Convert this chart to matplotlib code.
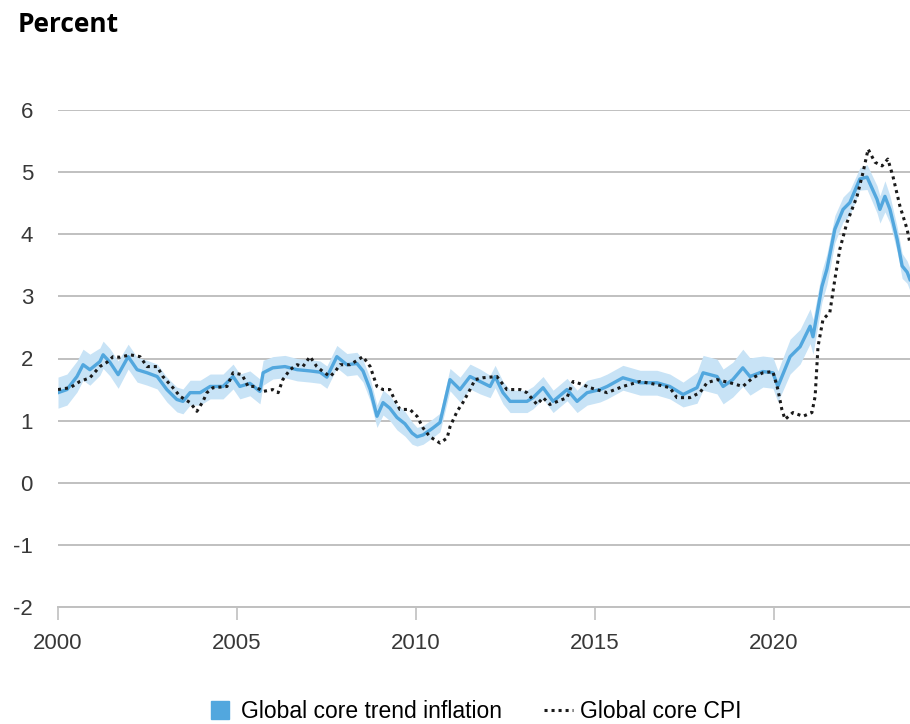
import numpy as np
import matplotlib
matplotlib.use("Agg")
from matplotlib import pyplot as plt
from matplotlib.lines import Line2D

# global core trend inflation
trend_year = [2000.0, 2000.25, 2000.53, 2000.7, 2000.89, 2001.17, 2001.26, 2001.45, 2001.68, 2001.96,
              2002.21, 2002.49, 2002.77, 2003.04, 2003.32, 2003.49, 2003.69, 2003.97, 2004.25, 2004.61,
              2004.89, 2005.08, 2005.36, 2005.64, 2005.73, 2006.0, 2006.34, 2006.68, 2007.04, 2007.32,
              2007.51, 2007.79, 2008.07, 2008.35, 2008.52, 2008.72, 2008.91, 2009.08, 2009.27, 2009.47,
              2009.69, 2009.89, 2010.03, 2010.2, 2010.47, 2010.67, 2010.95, 2011.23, 2011.51, 2011.79,
              2012.07, 2012.21, 2012.43, 2012.63, 2013.1, 2013.27, 2013.55, 2013.83, 2014.22, 2014.5,
              2014.78, 2015.14, 2015.34, 2015.78, 2016.26, 2016.73, 2017.09, 2017.46, 2017.85, 2018.02,
              2018.41, 2018.58, 2018.85, 2019.13, 2019.33, 2019.69, 2019.97, 2020.11, 2020.45, 2020.73,
              2021.01, 2021.09, 2021.34, 2021.48, 2021.7, 2021.93, 2022.12, 2022.4, 2022.6, 2022.88,
              2022.96, 2023.1, 2023.24, 2023.44, 2023.58, 2023.72, 2023.8]
trend = [1.45, 1.5, 1.71, 1.9, 1.82, 1.95, 2.06, 1.94, 1.74, 2.03,
         1.82, 1.77, 1.71, 1.5, 1.34, 1.31, 1.45, 1.45, 1.55, 1.55,
         1.71, 1.55, 1.6, 1.47, 1.77, 1.85, 1.87, 1.82, 1.8, 1.78,
         1.7, 2.03, 1.9, 1.92, 1.8, 1.5, 1.07, 1.29, 1.2, 1.05,
         0.95, 0.8, 0.74, 0.77, 0.88, 0.97, 1.66, 1.5, 1.71, 1.63,
         1.55, 1.71, 1.45, 1.31, 1.31, 1.37, 1.53, 1.31, 1.5, 1.31,
         1.45, 1.5, 1.55, 1.69, 1.61, 1.61, 1.55, 1.42, 1.53, 1.77,
         1.71, 1.55, 1.66, 1.85, 1.71, 1.79, 1.77, 1.55, 2.03, 2.19,
         2.52, 2.35, 3.16, 3.44, 4.08, 4.4, 4.51, 4.89, 4.92, 4.56,
         4.4, 4.61, 4.4, 3.92, 3.49, 3.39, 3.27]
band = [0.25, 0.25, 0.25, 0.25, 0.25, 0.22, 0.22, 0.22, 0.22, 0.2,
        0.2, 0.2, 0.2, 0.2, 0.2, 0.2, 0.2, 0.2, 0.2, 0.2,
        0.2, 0.2, 0.2, 0.2, 0.2, 0.18, 0.18, 0.18, 0.18, 0.18,
        0.18, 0.18, 0.18, 0.18, 0.18, 0.18, 0.18, 0.2, 0.2, 0.2,
        0.2, 0.18, 0.15, 0.15, 0.15, 0.15, 0.18, 0.2, 0.2, 0.2,
        0.18, 0.18, 0.18, 0.18, 0.18, 0.18, 0.18, 0.18, 0.18, 0.18,
        0.2, 0.2, 0.2, 0.2, 0.2, 0.2, 0.2, 0.2, 0.25, 0.28,
        0.28, 0.28, 0.28, 0.3, 0.3, 0.25, 0.25, 0.25, 0.28, 0.28,
        0.28, 0.28, 0.25, 0.25, 0.22, 0.2, 0.2, 0.18, 0.2, 0.22,
        0.22, 0.25, 0.22, 0.2, 0.2, 0.18, 0.18]

# global core CPI
cpi_year = [2000.0, 2000.34, 2000.61, 2000.89, 2001.17, 2001.37, 2001.54, 2001.73, 2002.01, 2002.29,
            2002.49, 2002.77, 2002.93, 2003.21, 2003.41, 2003.69, 2003.88, 2004.05, 2004.16, 2004.33,
            2004.72, 2004.89, 2005.14, 2005.31, 2005.5, 2005.73, 2006.0, 2006.15, 2006.28, 2006.48,
            2006.68, 2006.84, 2007.04, 2007.23, 2007.4, 2007.6, 2007.74, 2007.88, 2008.16, 2008.52,
            2008.72, 2008.91, 2009.08, 2009.27, 2009.36, 2009.55, 2009.83, 2010.03, 2010.2, 2010.39,
            2010.67, 2010.87, 2010.95, 2011.15, 2011.31, 2011.51, 2011.65, 2011.87, 2012.26, 2012.54,
            2012.91, 2013.1, 2013.38, 2013.55, 2013.74, 2014.22, 2014.39, 2014.66, 2014.86, 2015.34,
            2015.78, 2016.26, 2016.73, 2017.09, 2017.29, 2017.65, 2017.93, 2018.13, 2018.41, 2018.77,
            2019.13, 2019.41, 2019.69, 2019.97, 2020.11, 2020.22, 2020.31, 2020.53, 2020.81, 2021.06,
            2021.15, 2021.23, 2021.37, 2021.56, 2021.7, 2021.84, 2022.04, 2022.32, 2022.49, 2022.63,
            2022.82, 2023.02, 2023.18, 2023.32, 2023.52, 2023.72, 2023.8]
cpi = [1.5, 1.53, 1.63, 1.69, 1.87, 1.94, 2.03, 2.02, 2.06, 2.03,
       1.87, 1.87, 1.71, 1.53, 1.39, 1.29, 1.15, 1.31, 1.45, 1.53,
       1.55, 1.77, 1.74, 1.55, 1.55, 1.47, 1.5, 1.45, 1.66, 1.82,
       1.9, 1.87, 2.03, 1.87, 1.79, 1.71, 1.79, 1.9, 1.9, 2.03,
       1.87, 1.55, 1.5, 1.5, 1.39, 1.18, 1.18, 1.07, 0.88, 0.74,
       0.64, 0.72, 0.9, 1.15, 1.29, 1.5, 1.66, 1.69, 1.71, 1.5,
       1.5, 1.45, 1.26, 1.37, 1.26, 1.37, 1.63, 1.58, 1.53, 1.45,
       1.55, 1.63, 1.58, 1.53, 1.37, 1.37, 1.45, 1.61, 1.66, 1.61,
       1.55, 1.69, 1.77, 1.79, 1.5, 1.18, 1.02, 1.13, 1.07, 1.13,
       1.39, 2.19, 2.63, 2.74, 3.27, 3.76, 4.19, 4.61, 5.0, 5.37,
       5.16, 5.1, 5.21, 4.94, 4.45, 4.08, 3.85]

year_ticks = [2000, 2005, 2010, 2015, 2020]
value_ticks = [-2, -1, 0, 1, 2, 3, 4, 5, 6]

blue = '#52a7de'
band_blue = '#c8e3f6'
grey = '#c0c0c0'
label_font = 'Liberation Sans'

fig = plt.figure(figsize=(9.1, 7.24), dpi=100)
ax = fig.add_axes([58 / 910, 117 / 724, 852 / 910, 497 / 724])

t = np.array(trend)
b = np.array(band)
ax.fill_between(trend_year, t - b, t + b, color=band_blue, lw=0, zorder=2)
ax.plot(trend_year, trend, color=blue, lw=2.4, zorder=3)
ax.plot(cpi_year, cpi, color='#1a1a1a', lw=2.2, linestyle=(0, (1, 1.3)), zorder=4)

ax.set_xlim(2000, 2023.8)
ax.set_ylim(-2, 6)
ax.set_yticks(value_ticks)
ax.set_yticklabels([str(v) for v in value_ticks])
ax.set_xticks(year_ticks)
ax.grid(axis='y', color=grey, lw=1.4, zorder=1)
for s in ['top', 'right', 'left']:
    ax.spines[s].set_visible(False)
ax.spines['bottom'].set_color(grey)
ax.spines['bottom'].set_linewidth(1.4)
ax.spines['bottom'].set_zorder(1)
ax.tick_params(axis='y', length=0, pad=18, labelsize=16, labelcolor='#383838')
ax.tick_params(axis='x', length=9, width=1.2, color=grey, pad=10, labelsize=16, labelcolor='#383838')
for lab in ax.get_xticklabels() + ax.get_yticklabels():
    lab.set_family(label_font)

fig.text(18 / 910, 1 - 25 / 724, 'Percent', fontsize=19, fontweight='bold',
         family='Open Sans', va='center', ha='left')

handles = [Line2D([], [], marker='s', linestyle='none', markersize=12.5, color=blue),
           Line2D([], [], color='#1a1a1a', lw=2.2, linestyle=(0, (1, 1.3)))]
fig.legend(handles, ['Global core trend inflation', 'Global core CPI'],
           loc='center', bbox_to_anchor=(0.52, 12 / 724), ncol=2, frameon=False,
           handlelength=1.3, handletextpad=0.3, columnspacing=1.8,
           prop={'family': label_font, 'size': 16.5})

fig.savefig('out.png', dpi=100)
